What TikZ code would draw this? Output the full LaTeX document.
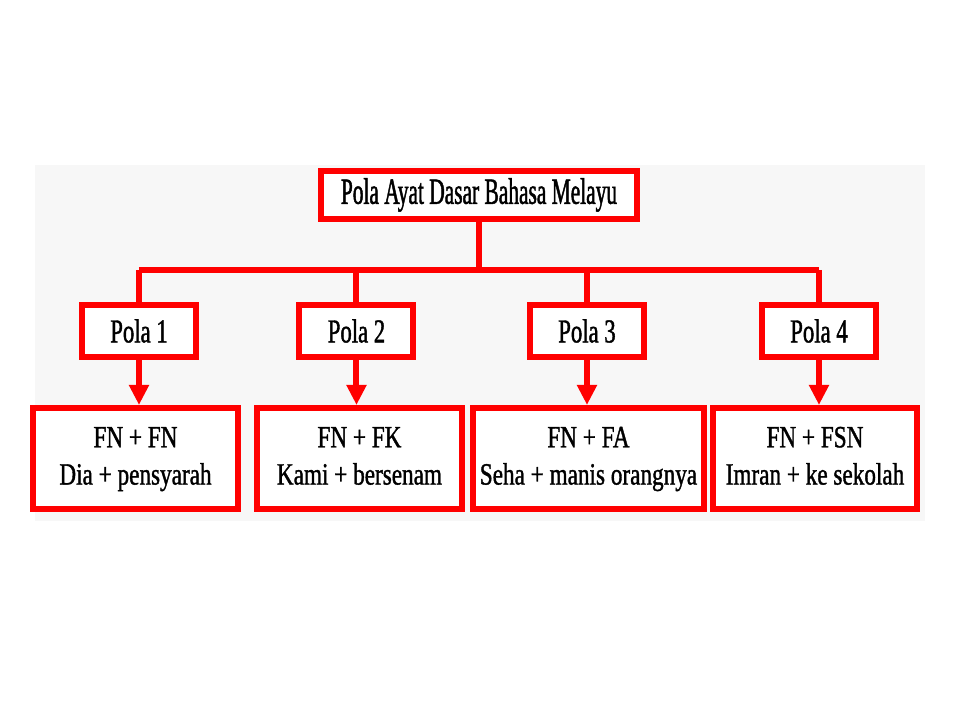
\documentclass[tikz,border=0pt]{standalone}
\usepackage{fontspec}
\setmainfont{Liberation Serif}
\newfontfamily\titlefont{Liberation Serif}[FakeStretch=0.58,FakeBold=1.2]
\newfontfamily\polafont{Liberation Serif}[FakeStretch=0.68,FakeBold=1.2]
\newfontfamily\rowfont{Liberation Serif}[FakeStretch=0.75,FakeBold=1.2]
\usetikzlibrary{arrows.meta}
\begin{document}
\begin{tikzpicture}[line width=0.06cm,
  >={Triangle[width=0.19cm,length=0.2cm]},
  redbox/.style={draw=red,fill=white,inner sep=0pt},
  topbox/.style={redbox,minimum width=3.16cm,minimum height=0.48cm,font=\titlefont\fontsize{10.5}{12}\selectfont},
  polabox/.style={redbox,minimum width=1.14cm,minimum height=0.52cm,font=\polafont\fontsize{9.5}{11}\selectfont},
  rowbox/.style={redbox,minimum height=1.01cm,align=center,font=\rowfont\fontsize{8.8}{10.6}\selectfont}]
\useasboundingbox (0,0) rectangle (9.6,7.2);
\fill [black!3] (0.35,1.99) rectangle (9.25,5.55);
% tree
\node [topbox] (top) at (4.79,5.25) {Pola Ayat Dasar Bahasa Melayu};
\node [polabox] (p1) at (1.39,3.89) {Pola 1};
\node [polabox] (p2) at (3.565,3.89) {Pola 2};
\node [polabox] (p3) at (5.87,3.89) {Pola 3};
\node [polabox] (p4) at (8.19,3.89) {Pola 4};
\node [rowbox,minimum width=2.05cm] (r1) at (1.355,2.615) {FN + FN\strut\\Dia + pensyarah\strut};
\node [rowbox,minimum width=2.05cm] (r2) at (3.595,2.615) {FN + FK\strut\\Kami + bersenam\strut};
\node [rowbox,minimum width=2.31cm] (r3) at (5.885,2.615) {FN + FA\strut\\Seha + manis orangnya\strut};
\node [rowbox,minimum width=2.04cm] (r4) at (8.15,2.615) {FN + FSN\strut\\Imran + ke sekolah\strut};
\coordinate (bar) at (4.79,4.50);
\draw [red] (top.south) -- (bar);
\draw [red] (p1.north |- bar) -- (p4.north |- bar);
\foreach \i in {1,2,3,4} {
  \draw [red] (p\i.north |- bar) -- (p\i.north);
  \draw [red,->] (p\i.south) -- (p\i.south |- r\i.north);
}
\end{tikzpicture}
\end{document}
